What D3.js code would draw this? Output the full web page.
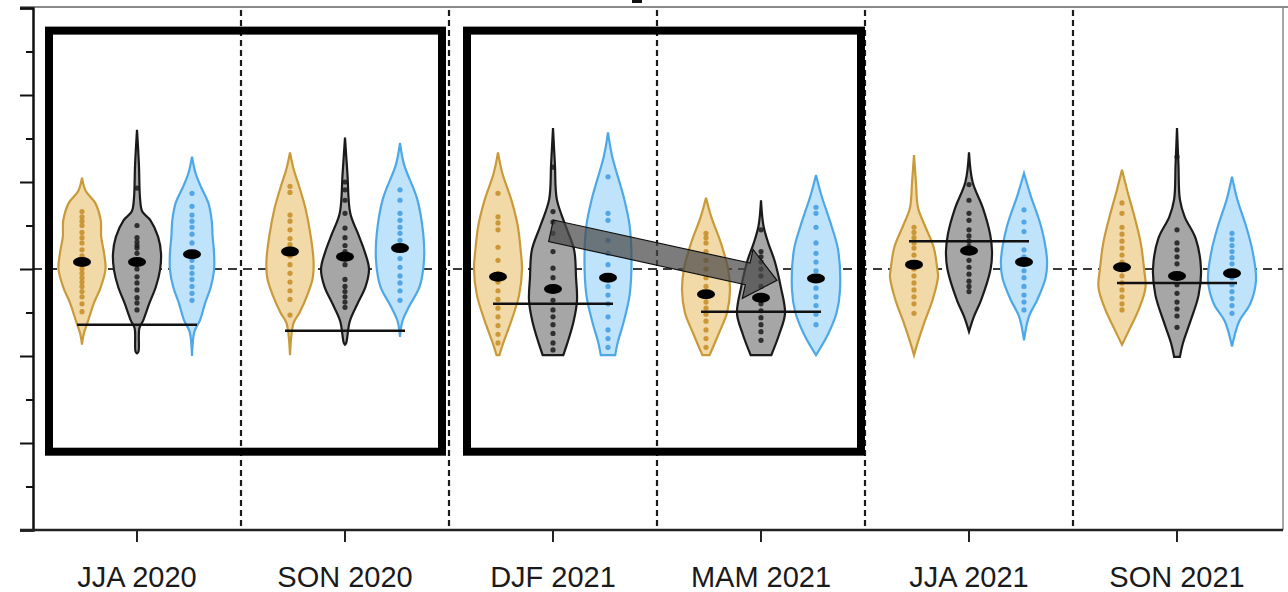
<!DOCTYPE html>
<html>
<head>
<meta charset="utf-8">
<script src="https://cdnjs.cloudflare.com/ajax/libs/d3/7.8.5/d3.min.js"></script>
<style>
  body { margin: 0; background: #fff; }
  svg { display: block; font-family: "Liberation Sans", Arial, sans-serif; }
</style>
</head>
<body>
<div id="chart"></div>
<script>
// seasons on the x axis
const seasons = ["JJA 2020", "SON 2020", "DJF 2021", "MAM 2021", "JJA 2021", "SON 2021"];
const series = ["orange", "gray", "blue"];

// violin outlines: [value, relative half width] from top to bottom
const orangeShapes = [
  [[1.05,0],[0.90,0.15],[0.76,0.55],[0.56,0.78],[0.37,0.8],[0.18,0.92],[0,0.98],[-0.21,0.78],[-0.39,0.5],[-0.59,0.26],[-0.75,0.07],[-0.87,0]],
  [[1.34,0],[1.15,0.15],[0.95,0.38],[0.7,0.64],[0.4,0.85],[0.1,0.98],[-0.1,0.95],[-0.3,0.72],[-0.5,0.4],[-0.62,0.15],[-0.99,0]],
  [[1.34,0],[1.1,0.18],[0.8,0.55],[0.5,0.82],[0.2,0.95],[0,1.0],[-0.3,0.88],[-0.6,0.55],[-0.85,0.22],[-0.99,0.06]],
  [[0.82,0],[0.6,0.22],[0.3,0.62],[0,0.92],[-0.24,1.0],[-0.5,0.88],[-0.75,0.52],[-0.99,0.15]],
  [[1.31,0],[1.0,0.08],[0.7,0.17],[0.5,0.45],[0.25,0.82],[0,0.97],[-0.09,1.0],[-0.35,0.78],[-0.6,0.45],[-0.85,0.15],[-0.99,0]],
  [[1.14,0],[0.9,0.22],[0.6,0.52],[0.3,0.78],[0,0.92],[-0.21,0.98],[-0.45,0.72],[-0.7,0.3],[-0.87,0]]
];
const grayShapes = [
  [[1.60,0],[1.2,0.08],[0.8,0.13],[0.66,0.22],[0.56,0.56],[0.37,0.88],[0.18,1.0],[-0.01,0.96],[-0.21,0.78],[-0.39,0.52],[-0.59,0.26],[-0.68,0.1],[-0.95,0.06],[-0.97,0]],
  [[1.51,0],[1.1,0.1],[0.64,0.22],[0.4,0.55],[0.2,0.82],[0,1.0],[-0.2,0.86],[-0.4,0.52],[-0.6,0.2],[-0.85,0.05],[-0.87,0]],
  [[1.62,0],[1.2,0.08],[0.8,0.16],[0.5,0.52],[0.22,0.88],[-0.1,0.96],[-0.36,1.0],[-0.6,0.86],[-0.85,0.6],[-0.99,0.43]],
  [[0.79,0],[0.5,0.1],[0.3,0.3],[0.1,0.56],[-0.2,0.82],[-0.51,1.0],[-0.75,0.76],[-0.99,0.43]],
  [[1.34,0],[1.0,0.15],[0.7,0.58],[0.4,0.88],[0.2,0.96],[0,0.9],[-0.36,0.5],[-0.55,0.2],[-0.72,0]],
  [[1.62,0],[1.2,0.06],[0.8,0.12],[0.6,0.32],[0.35,0.78],[0,1.0],[-0.3,0.9],[-0.6,0.56],[-0.85,0.25],[-1.01,0.12]]
];
const blueShapes = [
  [[1.29,0],[1.1,0.15],[0.94,0.38],[0.76,0.68],[0.56,0.82],[0.37,0.86],[0.18,0.92],[-0.01,0.92],[-0.21,0.78],[-0.39,0.55],[-0.59,0.33],[-0.72,0.1],[-1.0,0]],
  [[1.45,0],[1.2,0.17],[0.8,0.72],[0.4,0.97],[0.1,1.0],[-0.2,0.82],[-0.44,0.36],[-0.6,0.1],[-0.78,0]],
  [[1.57,0],[1.3,0.17],[0.8,0.68],[0.5,0.9],[0.1,0.98],[-0.3,0.9],[-0.6,0.66],[-0.85,0.4],[-0.99,0.3]],
  [[1.08,0],[0.85,0.22],[0.5,0.64],[0.22,0.92],[-0.24,1.0],[-0.5,0.86],[-0.75,0.5],[-0.99,0]],
  [[1.10,0],[0.85,0.27],[0.48,0.72],[0.1,0.96],[-0.1,0.9],[-0.35,0.56],[-0.55,0.2],[-0.82,0]],
  [[1.06,0],[0.8,0.22],[0.48,0.6],[0.2,0.86],[-0.13,1.0],[-0.4,0.76],[-0.6,0.3],[-0.89,0]]
];

// individual values shown as dots inside the violins
const orangeDots = [
  [0.66,0.6,0.55,0.5,0.42,0.36,0.3,0.22,0.15,0.0,-0.05,-0.1,-0.15,-0.2,-0.26,-0.32,-0.4,-0.49],
  [0.95,0.88,0.62,0.55,0.45,0.35,0.28,0.15,0.05,-0.05,-0.15,-0.25,-0.35,-0.53],
  [0.87,0.6,0.53,0.45,0.25,0.1,-0.05,-0.15,-0.25,-0.35,-0.45,-0.55,-0.65,-0.75,-0.85],
  [0.41,0.36,0.3,0.2,0.1,0.0,-0.1,-0.2,-0.38,-0.45,-0.52,-0.6,-0.7,-0.8,-0.9],
  [0.48,0.42,0.36,0.3,0.24,0.16,0.0,-0.08,-0.16,-0.24,-0.32,-0.4,-0.51],
  [0.76,0.64,0.48,0.4,0.32,0.24,0.16,0.08,-0.08,-0.16,-0.24,-0.32,-0.4,-0.47]
];
const grayDots = [
  [0.93,0.5,0.36,0.31,0.27,0.24,0.18,0.0,-0.09,-0.16,-0.24,-0.33,-0.39,-0.47],
  [1.0,0.91,0.79,0.64,0.47,0.36,0.27,0.2,0.05,-0.12,-0.2,-0.26,-0.32,-0.38,-0.44],
  [1.17,0.66,0.54,0.41,0.2,0.01,-0.1,-0.36,-0.47,-0.55,-0.64,-0.74,-0.85,-0.93],
  [0.45,0.2,0.14,0.08,0.0,-0.08,-0.2,-0.4,-0.48,-0.56,-0.64,-0.72,-0.82],
  [0.97,0.79,0.64,0.56,0.45,0.38,0.32,0.26,0.1,0.02,-0.06,-0.14,-0.2,-0.26],
  [1.29,0.45,0.3,0.22,0.14,0.06,-0.18,-0.28,-0.38,-0.46,-0.54,-0.67]
];
const blueDots = [
  [0.87,0.72,0.62,0.55,0.48,0.4,0.3,0.1,0.02,-0.05,-0.12,-0.2,-0.28,-0.36],
  [0.91,0.79,0.64,0.56,0.48,0.41,0.33,0.12,0.02,-0.08,-0.16,-0.25,-0.36],
  [1.06,0.64,0.56,0.33,0.18,0.05,-0.2,-0.3,-0.4,-0.55,-0.7,-0.8,-0.9],
  [0.71,0.64,0.48,0.3,0.18,0.08,-0.02,-0.22,-0.32,-0.42,-0.52,-0.64],
  [0.68,0.54,0.43,0.22,0.14,-0.02,-0.1,-0.2,-0.3,-0.38,-0.47],
  [0.41,0.34,0.27,0.2,0.13,0.06,-0.1,-0.18,-0.26,-0.34,-0.42,-0.51]
];

// means (black ellipses)
const orangeMeans = [0.08, 0.20, -0.09, -0.29, 0.05, 0.02];
const grayMeans = [0.08, 0.14, -0.23, -0.33, 0.21, -0.08];
const blueMeans = [0.17, 0.24, -0.10, -0.11, 0.08, -0.05];

// horizontal reference line per season
const refLines = [-0.64, -0.71, -0.40, -0.49, 0.32, -0.16];

// highlight boxes (season spans, value range)
const boxes = [
  { from: "JJA 2020", to: "SON 2020", top: 2.74, bottom: -2.10 },
  { from: "DJF 2021", to: "MAM 2021", top: 2.74, bottom: -2.10 }
];
// arrow between gray violins
const arrowFrom = { season: "DJF 2021", value: 0.44 };
const arrowTo = { season: "MAM 2021", value: -0.13 };

const yMajor = [-3, -2, -1, 0, 1, 2, 3];
const yMinor = [-2.5, -1.5, -0.5, 0.5, 1.5, 2.5];

const W = 1288, H = 592;
const svg = d3.select("#chart").append("svg").attr("width", W).attr("height", H);

const x = d3.scaleBand().domain(seasons).range([33, 1281]).padding(0);
const inner = d3.scalePoint().domain(series).range([-55, 55]);
const y = d3.scaleLinear().domain([-3, 3]).range([530, 8]);
const wScale = d3.scaleLinear().domain([0, 1]).range([0, 24]);
const cx = s => x(s) + x.bandwidth() / 2;

const styles = {
  orange: { fill: "#f2d9a8", stroke: "#c99a3a", dot: "#c48c25" },
  gray: { fill: "#a6a6a6", stroke: "#1a1a1a", dot: "#1a1a1a" },
  blue: { fill: "#bfe3fb", stroke: "#4ea8e6", dot: "#3f9be0" }
};
const shapes = { orange: orangeShapes, gray: grayShapes, blue: blueShapes };
const dots = { orange: orangeDots, gray: grayDots, blue: blueDots };
const means = { orange: orangeMeans, gray: grayMeans, blue: blueMeans };

// frame
svg.append("line").attr("x1", 20).attr("x2", W).attr("y1", 7).attr("y2", 7)
  .attr("stroke", "#8a8a8a").attr("stroke-width", 2);
svg.append("line").attr("x1", 1283).attr("x2", 1283).attr("y1", 7).attr("y2", 530)
  .attr("stroke", "#8a8a8a").attr("stroke-width", 1.5);
svg.append("rect").attr("x", 632).attr("y", 0).attr("width", 10).attr("height", 3).attr("fill", "#111");

// season separators
svg.selectAll(".sep").data(seasons.slice(1)).join("line")
  .attr("x1", d => x(d)).attr("x2", d => x(d))
  .attr("y1", y(3) + 2).attr("y2", y(-3))
  .attr("stroke", "#1a1a1a").attr("stroke-width", 2.2).attr("stroke-dasharray", "6,4");

// zero line
svg.append("line").attr("x1", x.range()[0]).attr("x2", 1283)
  .attr("y1", y(0)).attr("y2", y(0))
  .attr("stroke", "#3a3a3a").attr("stroke-width", 1.8).attr("stroke-dasharray", "9,6");

// violins
const area = d3.area().curve(d3.curveCatmullRom.alpha(0.5));
seasons.forEach((s, i) => {
  series.forEach(k => {
    const c = cx(s) + inner(k);
    const st = styles[k];
    svg.append("path")
      .datum(shapes[k][i])
      .attr("d", area.y(d => y(d[0])).x0(d => c - wScale(d[1])).x1(d => c + wScale(d[1])))
      .attr("fill", st.fill).attr("stroke", st.stroke).attr("stroke-width", 2.2);
    svg.append("g").selectAll("circle").data(dots[k][i]).join("circle")
      .attr("cx", c).attr("cy", d => y(d)).attr("r", 2.6)
      .attr("fill", st.dot).attr("opacity", 0.85);
  });
});

// reference lines
seasons.forEach((s, i) => {
  svg.append("line")
    .attr("x1", cx(s) + inner("orange") - 5).attr("x2", cx(s) + inner("blue") + 5)
    .attr("y1", y(refLines[i])).attr("y2", y(refLines[i]))
    .attr("stroke", "#111").attr("stroke-width", 2.5);
});

// means
seasons.forEach((s, i) => {
  series.forEach(k => {
    svg.append("ellipse")
      .attr("cx", cx(s) + inner(k)).attr("cy", y(means[k][i]))
      .attr("rx", 9).attr("ry", 5).attr("fill", "#000");
  });
});

// arrow
(function () {
  const x0 = cx(arrowFrom.season) + inner("gray") - 2, y0 = y(arrowFrom.value);
  const x1 = cx(arrowTo.season) + inner("gray") + 16, y1 = y(arrowTo.value);
  const len = Math.hypot(x1 - x0, y1 - y0);
  const ang = Math.atan2(y1 - y0, x1 - x0) * 180 / Math.PI;
  const sw = 11, hl = 30, hw = 25;
  const pts = [[0, -sw], [len - hl, -sw], [len - hl, -hw], [len, 0], [len - hl, hw], [len - hl, sw], [0, sw]];
  svg.append("path")
    .attr("d", d3.line()(pts) + "Z")
    .attr("transform", `translate(${x0},${y0}) rotate(${ang})`)
    .attr("fill", "#4a4a4a").attr("fill-opacity", 0.72)
    .attr("stroke", "#111").attr("stroke-width", 1.2);
})();

// highlight boxes
boxes.forEach((b, i) => {
  const left = x(b.from) + (i === 0 ? 16 : 18);
  const right = x(b.to) + x.bandwidth() - (i === 0 ? 7 : 4);
  svg.append("rect")
    .attr("x", left).attr("y", y(b.top))
    .attr("width", right - left).attr("height", y(b.bottom) - y(b.top))
    .attr("fill", "none").attr("stroke", "#000").attr("stroke-width", 8);
});

// y axis
const yAxisMajor = svg.append("g").attr("transform", "translate(33,0)")
  .call(d3.axisLeft(y).tickValues(yMajor).tickSize(13).tickFormat(""));
const yAxisMinor = svg.append("g").attr("transform", "translate(33,0)")
  .call(d3.axisLeft(y).tickValues(yMinor).tickSize(7).tickFormat(""));
[yAxisMajor, yAxisMinor].forEach(g => {
  g.selectAll("line").attr("stroke", "#111").attr("stroke-width", 2);
  g.select(".domain").attr("stroke", "#111").attr("stroke-width", 2.5);
});
yAxisMinor.select(".domain").remove();

// x axis
svg.append("line").attr("x1", 20).attr("x2", 1283).attr("y1", y(-3)).attr("y2", y(-3))
  .attr("stroke", "#222").attr("stroke-width", 2.5);
const xAxis = svg.append("g").attr("transform", `translate(0,${y(-3)})`)
  .call(d3.axisBottom(x).tickSize(12).tickPadding(24));
xAxis.select(".domain").remove();
xAxis.selectAll("line").attr("stroke", "#222").attr("stroke-width", 2);
xAxis.selectAll("text").attr("font-size", 29).attr("fill", "#1a1a1a")
  .attr("font-family", "'Liberation Sans', Arial, sans-serif");
</script>
</body>
</html>
